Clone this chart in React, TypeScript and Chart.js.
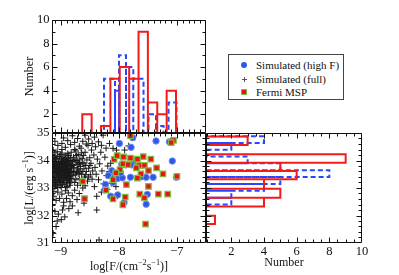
import React, { useEffect, useRef } from 'react';
import { Chart, registerables } from 'chart.js';

Chart.register(...registerables);

const FONT = '"Liberation Serif", "DejaVu Serif", serif';

// ---------------- Data ----------------
// Fermi MSP: [log F, log L]
const fermiMsp: [number, number][] = [
  [-7.80, 34.90], [-7.06, 34.73], [-7.10, 34.65], [-8.08, 34.04], [-7.92, 34.13],
  [-7.80, 34.09], [-7.68, 34.05], [-7.58, 34.14], [-7.45, 34.05], [-7.93, 33.88],
  [-7.84, 33.85], [-7.65, 33.82], [-7.56, 33.82], [-7.70, 33.73], [-7.35, 33.73],
  [-7.98, 33.67], [-7.49, 33.63], [-7.62, 33.51], [-7.24, 33.51], [-8.10, 33.30],
  [-7.00, 33.42], [-7.68, 33.36], [-7.87, 33.12], [-7.49, 33.06], [-7.64, 32.78],
  [-7.32, 32.78], [-7.16, 32.78], [-8.10, 32.60], [-7.89, 32.67], [-8.62, 33.24],
  [-8.59, 32.61], [-7.93, 32.39], [-7.54, 31.69], [-8.22, 32.92], [-7.56, 32.64],
  [-8.03, 34.18], [-8.05, 33.55],
];

// Simulated (high F)
const simHighF: [number, number][] = [
  [-7.99, 34.62], [-7.76, 34.83], [-7.36, 34.71], [-7.13, 34.68], [-7.79, 34.48],
  [-8.12, 33.63], [-8.06, 33.53], [-8.02, 33.35], [-7.95, 33.86], [-7.88, 33.84],
  [-7.78, 33.84], [-7.68, 33.78], [-7.60, 33.41], [-7.53, 33.39], [-7.41, 33.39],
  [-7.94, 33.37], [-7.80, 33.39], [-8.23, 33.13], [-8.24, 32.93], [-8.14, 32.70],
  [-8.02, 32.75], [-7.51, 32.77], [-7.53, 32.41], [-7.91, 32.47], [-7.08, 33.98],
  [-7.01, 33.39], [-8.18, 33.45], [-7.97, 33.55], [-7.72, 34.00], [-8.10, 33.20],
];

// Simulated (full)
const simFull: [number, number][] = [
  [-9.14, 34.21], [-9.12, 33.95], [-9.13, 33.62], [-9.11, 33.40], [-9.14, 33.18], [-9.10, 33.05],
  [-9.12, 32.88], [-9.09, 34.05], [-9.08, 33.78], [-9.07, 33.51], [-9.09, 33.29], [-9.06, 34.32],
  [-9.05, 33.88], [-9.04, 33.66], [-9.06, 33.12], [-9.03, 33.45], [-9.02, 34.14], [-9.01, 33.92],
  [-9.03, 33.71], [-9.00, 33.24], [-8.99, 33.58], [-8.98, 34.27], [-8.97, 33.83], [-8.99, 33.02],
  [-8.96, 33.37], [-8.95, 34.02], [-8.94, 33.69], [-8.96, 33.50], [-8.93, 33.15], [-8.92, 33.93],
  [-8.91, 34.20], [-8.90, 33.61], [-8.92, 33.40], [-8.89, 33.78], [-8.88, 33.26], [-8.87, 34.08],
  [-8.86, 33.52], [-8.85, 33.88], [-8.84, 33.10], [-8.83, 33.70], [-8.82, 34.30], [-8.81, 33.34],
  [-8.80, 33.96], [-9.13, 34.38], [-9.11, 33.83], [-9.10, 33.55], [-9.12, 33.30], [-9.08, 33.96],
  [-9.07, 33.20], [-9.05, 34.16], [-9.04, 33.36], [-9.02, 33.60], [-9.01, 33.08], [-8.99, 33.75],
  [-8.98, 34.40], [-8.97, 33.48], [-8.95, 33.28], [-8.94, 33.90], [-8.93, 34.12], [-8.91, 33.46],
  [-8.90, 33.84], [-8.89, 33.05], [-8.88, 34.25], [-8.86, 33.64], [-8.85, 33.42], [-8.84, 34.00],
  [-8.83, 33.22], [-8.82, 33.57], [-9.14, 33.90], [-9.13, 33.47], [-9.11, 34.10], [-9.09, 33.67],
  [-9.08, 33.40], [-9.06, 33.58], [-9.05, 33.02], [-9.03, 33.97], [-9.02, 33.27], [-9.00, 33.85],
  [-9.00, 34.22], [-8.98, 33.66], [-8.97, 33.12], [-8.96, 34.09], [-8.94, 33.55], [-8.92, 33.75],
  [-8.91, 33.02], [-8.90, 33.35], [-8.88, 33.95], [-8.87, 33.58], [-8.86, 34.18], [-8.84, 33.76],
  [-8.83, 33.45], [-8.81, 33.62], [-9.14, 33.30], [-9.12, 33.77], [-9.10, 34.28], [-9.07, 33.86],
  [-9.04, 33.76], [-9.03, 33.18], [-9.01, 33.50], [-8.99, 33.94], [-8.97, 33.62], [-8.95, 33.80],
  [-8.93, 33.36], [-8.92, 33.58], [-8.89, 33.70], [-8.87, 33.38], [-8.85, 33.18], [-8.81, 33.85],
  [-9.13, 33.08], [-9.09, 33.12], [-9.06, 33.72], [-9.04, 33.55], [-9.02, 33.84], [-8.98, 33.33],
  [-8.96, 33.90], [-8.93, 33.66], [-8.90, 33.98], [-8.88, 33.48], [-8.86, 33.30], [-8.84, 33.90],
  [-9.15, 33.70], [-9.15, 34.02], [-9.15, 33.42], [-9.14, 33.55], [-9.13, 33.82], [-9.12, 34.12],
  [-9.11, 33.22], [-9.10, 33.72], [-9.09, 33.88], [-9.08, 33.58], [-9.07, 34.08], [-9.06, 33.32],
  [-9.05, 33.62], [-9.04, 33.94], [-9.03, 33.58], [-9.02, 33.40], [-9.01, 33.72], [-9.00, 33.36],
  [-8.99, 34.06], [-8.98, 33.50], [-8.97, 33.96], [-8.96, 33.20], [-8.95, 33.64], [-8.94, 33.44],
  [-8.93, 33.82], [-8.92, 34.04], [-8.91, 33.68], [-8.90, 33.20], [-8.89, 33.56], [-8.88, 33.82],
  [-8.87, 33.70], [-8.86, 33.96], [-8.85, 33.60], [-8.84, 33.34], [-8.83, 34.10], [-8.82, 33.78],
  [-8.79, 33.45], [-8.78, 34.12], [-8.77, 33.74], [-8.76, 33.20], [-8.75, 33.98], [-8.74, 34.35],
  [-8.73, 33.56], [-8.72, 33.85], [-8.71, 33.10], [-8.70, 34.22], [-8.69, 33.65], [-8.68, 33.35],
  [-8.67, 34.05], [-8.66, 33.78], [-8.65, 34.45], [-8.64, 33.50], [-8.63, 33.92], [-8.62, 33.00],
  [-8.61, 34.18], [-8.60, 33.70], [-8.59, 33.40], [-8.58, 34.30], [-8.57, 33.82], [-8.56, 33.60],
  [-8.55, 34.02], [-8.54, 33.25], [-8.53, 34.55], [-8.52, 33.72], [-8.50, 34.10], [-8.49, 33.48],
  [-8.48, 33.90], [-8.47, 34.38], [-8.46, 33.32], [-8.45, 33.62], [-8.78, 33.60], [-8.76, 34.40],
  [-8.74, 33.30], [-8.72, 34.00], [-8.70, 33.52], [-8.68, 33.88], [-8.66, 33.18], [-8.64, 34.28],
  [-8.62, 33.60], [-8.58, 33.08], [-8.56, 34.60], [-8.52, 33.40], [-8.50, 33.82],
  [-8.79, 33.82], [-8.77, 34.02], [-8.75, 33.50], [-8.73, 34.18], [-8.71, 33.70], [-8.69, 33.92],
  [-8.67, 33.58], [-8.63, 34.08], [-8.60, 33.88], [-8.57, 33.48],
  [-9.05, 34.55], [-8.98, 34.62], [-8.92, 34.48], [-8.88, 34.72], [-8.83, 34.58], [-8.80, 34.90],
  [-8.76, 34.66], [-8.71, 34.80], [-8.68, 34.52], [-8.62, 34.70], [-8.58, 34.92], [-8.52, 34.78],
  [-8.46, 34.62], [-8.42, 34.85], [-8.40, 34.50], [-8.35, 34.68], [-8.30, 34.55], [-8.27, 34.92],
  [-8.22, 34.45], [-8.16, 34.62], [-8.10, 34.44], [-8.04, 34.38], [-7.90, 34.38], [-7.83, 34.53],
  [-9.10, 34.70], [-8.95, 34.82],
  [-8.43, 34.20], [-8.41, 33.75], [-8.39, 33.50], [-8.37, 34.05], [-8.35, 33.30], [-8.33, 33.88],
  [-8.31, 34.30], [-8.29, 33.62], [-8.26, 33.15], [-8.24, 34.12], [-8.21, 33.45], [-8.19, 33.80],
  [-8.16, 33.60], [-8.14, 33.90], [-8.13, 33.17], [-8.11, 33.40], [-8.05, 33.05], [-8.02, 32.71],
  [-8.20, 32.95], [-8.30, 32.85], [-8.42, 33.05], [-8.38, 32.70],
  [-9.12, 32.70], [-9.08, 32.55], [-9.14, 32.40], [-9.05, 32.85], [-9.02, 32.62], [-8.98, 32.78],
  [-8.95, 32.48], [-8.92, 32.90], [-8.90, 32.62], [-8.87, 32.82], [-8.84, 32.50], [-8.80, 32.72],
  [-8.76, 32.92], [-8.72, 32.58], [-8.68, 32.80], [-9.10, 32.15], [-9.04, 32.05], [-8.97, 32.20],
  [-8.93, 31.95], [-8.99, 31.85], [-9.06, 31.80], [-8.86, 32.25], [-8.80, 32.35], [-8.70, 32.10],
  [-8.60, 32.45], [-8.38, 32.20], [-9.13, 31.35], [-8.34, 31.11], [-9.08, 31.60], [-8.95, 32.35],
];

// Top histogram (log F), Fermi MSP (red, solid)
const topRedEdges = [-8.629, -8.468, -8.306, -8.145, -7.984, -7.822, -7.661, -7.500, -7.339, -7.177, -7.016];
const topRedCounts = [2, 0, 1, 5, 6, 5, 9, 3, 2, 4];
// Top histogram, simulated high F (blue, dashed)
const topBlueLeft = [-8.255, -8.066, -7.997, -7.877, -7.751, -7.489, -7.360, -7.145];
const topBlueRight = [-8.066, -7.997, -7.877, -7.751, -7.575, -7.360, -7.231, -7.008];
const topBlueCounts = [5, 4, 7, 6, 5, 2, 1, 3];

// Right histogram (log L), Fermi MSP (red)
const rightRedLow = [34.56, 33.92, 33.62, 33.32, 32.97, 32.65, 32.33, 31.69];
const rightRedHigh = [34.87, 34.23, 33.92, 33.62, 33.32, 32.97, 32.65, 31.99];
const rightRedCounts = [3, 9, 5, 6, 4, 5, 4, 1];
// Right histogram, simulated high F (blue, dashed)
const rightBlueEdges = [34.88, 34.64, 34.39, 34.15, 33.90, 33.65, 33.40, 33.15, 32.90, 32.65, 32.40];
const rightBlueCounts = [4, 2, 0, 3, 5, 8, 5, 4, 2, 2];

// Ticks
const fluxTicks = [-9, -8, -7];
const lumTicks = [31, 32, 33, 34, 35];
const countTicks = [2, 4, 6, 8, 10];

// ---------------- Helpers ----------------
const RED = '#f41a1a';
const BLUE = '#2447ff';

function vBars(lefts: number[], rights: number[], counts: number[]) {
  const pts: any[] = [];
  counts.forEach((c, i) => {
    if (c <= 0) return;
    const l = lefts[i], r = rights[i];
    pts.push({ x: l, y: 0 }, { x: l, y: c }, { x: r, y: c }, { x: r, y: 0 }, { x: r, y: null });
  });
  return pts;
}
function hBars(lows: number[], highs: number[], counts: number[]) {
  const pts: any[] = [];
  counts.forEach((c, i) => {
    if (c <= 0) return;
    const lo = lows[i], hi = highs[i];
    pts.push({ x: 0, y: lo }, { x: c, y: lo }, { x: c, y: hi }, { x: 0, y: hi }, { x: 0, y: null });
  });
  return pts;
}
function fmt(v: number) {
  return v < 0 ? '\u2212' + Math.abs(v) : String(v);
}
function minors(min: number, max: number, step: number) {
  const out: number[] = [];
  for (let k = Math.ceil(min / step - 1e-9); k * step <= max + 1e-9; k++) out.push(k * step);
  return out;
}
function drawRich(ctx: CanvasRenderingContext2D, parts: any[], x: number, y: number, size: number, rotate: boolean) {
  ctx.save();
  ctx.translate(x, y);
  if (rotate) ctx.rotate(-Math.PI / 2);
  ctx.textBaseline = 'middle';
  ctx.textAlign = 'left';
  let total = 0;
  const ws: number[] = [];
  for (const p of parts) {
    ctx.font = `${p.sup ? size * 0.68 : size}px ${FONT}`;
    const w = ctx.measureText(p.t).width;
    ws.push(w);
    total += w;
  }
  let cx = -total / 2;
  parts.forEach((p: any, i: number) => {
    ctx.font = `${p.sup ? size * 0.68 : size}px ${FONT}`;
    ctx.fillText(p.t, cx, p.sup ? -size * 0.38 : 0);
    cx += ws[i];
  });
  ctx.restore();
}

const framePlugin = {
  id: 'frame',
  afterDatasetsDraw(chart: any, _args: any, o: any) {
    if (!o || !o.on) return;
    const { ctx, chartArea: a } = chart;
    const xs = chart.scales.x, ys = chart.scales.y;
    const L = Math.round(a.left) + 0.5, R = Math.round(a.right) - 0.5;
    const T = Math.round(a.top) + 0.5, B = Math.round(a.bottom) - 0.5;
    ctx.save();
    ctx.strokeStyle = '#111';
    ctx.lineWidth = 1;
    ctx.beginPath();
    ctx.rect(L, T, R - L, B - T);
    ctx.stroke();
    const MAJ = 5, MIN = 3;
    ctx.beginPath();
    const xTick = (v: number, len: number) => {
      const p = Math.round(xs.getPixelForValue(v)) + 0.5;
      if (p < a.left || p > a.right) return;
      ctx.moveTo(p, B); ctx.lineTo(p, B - len);
      ctx.moveTo(p, T); ctx.lineTo(p, T + len);
    };
    const yTick = (v: number, len: number) => {
      const p = Math.round(ys.getPixelForValue(v)) + 0.5;
      if (p < a.top || p > a.bottom) return;
      ctx.moveTo(L, p); ctx.lineTo(L + len, p);
      ctx.moveTo(R, p); ctx.lineTo(R - len, p);
    };
    minors(xs.min, xs.max, o.xMinor).forEach((v) => xTick(v, MIN));
    (o.xMajor as number[]).forEach((v) => xTick(v, MAJ));
    minors(ys.min, ys.max, o.yMinor).forEach((v) => yTick(v, MIN));
    (o.yMajor as number[]).forEach((v) => yTick(v, MAJ));
    ctx.stroke();

    ctx.fillStyle = '#111';
    ctx.font = `12.5px ${FONT}`;
    if (o.xLabels) {
      ctx.textAlign = 'center';
      ctx.textBaseline = 'middle';
      (o.xMajor as number[]).forEach((v) => {
        ctx.fillText(fmt(v), xs.getPixelForValue(v), a.bottom + 9);
      });
    }
    if (o.yLabels) {
      ctx.textAlign = 'right';
      ctx.textBaseline = 'middle';
      (o.yMajor as number[]).forEach((v) => {
        ctx.fillText(fmt(v), a.left - 2.5, ys.getPixelForValue(v));
      });
    }
    if (o.xTitle) {
      drawRich(ctx, o.xTitle, (a.left + a.right) / 2, a.bottom + o.xTitleOff, 12, false);
    }
    if (o.yTitle) {
      drawRich(ctx, o.yTitle, a.left - o.yTitleOff, (a.top + a.bottom) / 2, 12, true);
    }
    ctx.restore();
  },
};
Chart.register(framePlugin);

const F_MIN = -9.15, F_MAX = -6.5;
const L_MIN = 31, L_MAX = 35;
const CW = 399, CH = 275;

function pad(left: number, top: number, right: number, bottom: number) {
  return { left, top, right: CW - right, bottom: CH - bottom };
}

const baseOpts = {
  animation: false as const,
  responsive: false,
  events: [] as any[],
};

function topConfig(): any {
  return {
    type: 'scatter',
    data: {
      datasets: [
        { data: vBars(topRedEdges.slice(0, -1), topRedEdges.slice(1), topRedCounts), showLine: true, pointRadius: 0, borderColor: RED, borderWidth: 2, spanGaps: false },
        { data: vBars(topBlueLeft, topBlueRight, topBlueCounts), showLine: true, pointRadius: 0, borderColor: BLUE, borderWidth: 2, borderDash: [5, 3], spanGaps: false },
      ],
    },
    options: {
      ...baseOpts,
      layout: { padding: pad(52, 20, 206, 133) },
      scales: {
        x: { type: 'linear', display: false, min: F_MIN, max: F_MAX },
        y: { type: 'linear', display: false, min: 0.4, max: 10 },
      },
      plugins: {
        legend: { display: false }, tooltip: { enabled: false },
        frame: {
          on: true, xMajor: fluxTicks, xMinor: 0.1, yMajor: countTicks, yMinor: 1,
          xLabels: false, yLabels: true,
          yTitle: [{ t: 'Number' }], yTitleOff: 22,
        },
      },
    },
  };
}

function scatterConfig(): any {
  const toXY = (arr: [number, number][]) => arr.map(([x, y]) => ({ x, y }));
  return {
    type: 'scatter',
    data: {
      datasets: [
        { label: 'Fermi MSP', data: toXY(fermiMsp), pointStyle: 'rect', pointRadius: 3.9, backgroundColor: '#ea1212', borderColor: '#7cc23e', borderWidth: 1.2 },
        { label: 'Simulated (high F)', data: toXY(simHighF), pointStyle: 'circle', pointRadius: 3.2, backgroundColor: '#2f56e8', borderColor: '#6d8cf2', borderWidth: 1 },
        { label: 'Simulated (full)', data: toXY(simFull), pointStyle: 'cross', pointRadius: 3.2, borderColor: '#1a1a1a', backgroundColor: '#1a1a1a', borderWidth: 1 },
      ],
    },
    options: {
      ...baseOpts,
      layout: { padding: pad(52, 133, 206, 243) },
      scales: {
        x: { type: 'linear', display: false, min: F_MIN, max: F_MAX },
        y: { type: 'linear', display: false, min: L_MIN, max: L_MAX },
      },
      plugins: {
        legend: { display: false }, tooltip: { enabled: false },
        frame: {
          on: true, xMajor: fluxTicks, xMinor: 0.1, yMajor: lumTicks, yMinor: 0.2,
          xLabels: true, yLabels: true,
          xTitle: [{ t: 'log[F/(cm' }, { t: '\u22122', sup: true }, { t: 's' }, { t: '\u22121', sup: true }, { t: ')]' }],
          xTitleOff: 24,
          yTitle: [{ t: 'log[L/(erg s' }, { t: '\u22121', sup: true }, { t: ')]' }],
          yTitleOff: 22,
        },
      },
    },
  };
}

function rightConfig(): any {
  return {
    type: 'scatter',
    data: {
      datasets: [
        { data: hBars(rightRedLow, rightRedHigh, rightRedCounts), showLine: true, pointRadius: 0, borderColor: RED, borderWidth: 2, spanGaps: false },
        { data: hBars(rightBlueEdges.slice(1), rightBlueEdges.slice(0, -1), rightBlueCounts), showLine: true, pointRadius: 0, borderColor: BLUE, borderWidth: 2, borderDash: [5, 3], spanGaps: false },
      ],
    },
    options: {
      ...baseOpts,
      layout: { padding: pad(206, 133, 362, 243) },
      scales: {
        x: { type: 'linear', display: false, min: 0.45, max: 10 },
        y: { type: 'linear', display: false, min: L_MIN, max: L_MAX },
      },
      plugins: {
        legend: { display: false }, tooltip: { enabled: false },
        frame: {
          on: true, xMajor: countTicks, xMinor: 0.5, yMajor: lumTicks, yMinor: 0.2,
          xLabels: true, yLabels: false,
          xTitle: [{ t: 'Number' }], xTitleOff: 20,
        },
      },
    },
  };
}

const legendItems = [
  { label: 'Simulated (high F)', kind: 'dot' },
  { label: 'Simulated (full)', kind: 'plus' },
  { label: 'Fermi MSP', kind: 'square' },
];

function Marker({ kind }: { kind: string }) {
  if (kind === 'dot') {
    return <div style={{ position: 'absolute', left: -3, top: -3, width: 6, height: 6, borderRadius: '50%', background: '#2f56e8' }} />;
  }
  if (kind === 'plus') {
    return (
      <>
        <div style={{ position: 'absolute', left: -2, top: 0, width: 5, height: 1, background: '#555' }} />
        <div style={{ position: 'absolute', left: 0, top: -2, width: 1, height: 5, background: '#555' }} />
      </>
    );
  }
  return <div style={{ position: 'absolute', left: -3, top: -3, width: 4, height: 4, background: '#ea1212', border: '1px solid #7cc23e' }} />;
}

export default function App() {
  const topRef = useRef<HTMLCanvasElement>(null);
  const midRef = useRef<HTMLCanvasElement>(null);
  const rightRef = useRef<HTMLCanvasElement>(null);

  useEffect(() => {
    const charts = [
      new Chart(topRef.current!, topConfig()),
      new Chart(midRef.current!, scatterConfig()),
      new Chart(rightRef.current!, rightConfig()),
    ];
    return () => charts.forEach((c) => c.destroy());
  }, []);

  const cs: React.CSSProperties = { position: 'absolute', left: 0, top: 0, width: CW, height: CH };
  return (
    <div style={{ position: 'absolute', left: 0, top: 0, width: CW, height: CH, background: '#fff', fontFamily: FONT, overflow: 'hidden' }}>
      <canvas ref={midRef} width={CW} height={CH} style={cs} />
      <canvas ref={topRef} width={CW} height={CH} style={cs} />
      <canvas ref={rightRef} width={CW} height={CH} style={cs} />
      <div style={{ position: 'absolute', left: 228, top: 54, width: 114, height: 44, border: '1px solid #444', background: '#fff' }}>
        {legendItems.map((it, i) => (
          <div key={it.label} style={{ position: 'absolute', left: 0, top: 10 + i * 13.5, width: 114, height: 0 }}>
            <div style={{ position: 'absolute', left: 15, top: 0 }}>
              <Marker kind={it.kind} />
            </div>
            <div style={{ position: 'absolute', left: 27, top: -7, fontSize: 11, lineHeight: '14px', whiteSpace: 'nowrap', color: '#111' }}>
              {it.label}
            </div>
          </div>
        ))}
      </div>
    </div>
  );
}
